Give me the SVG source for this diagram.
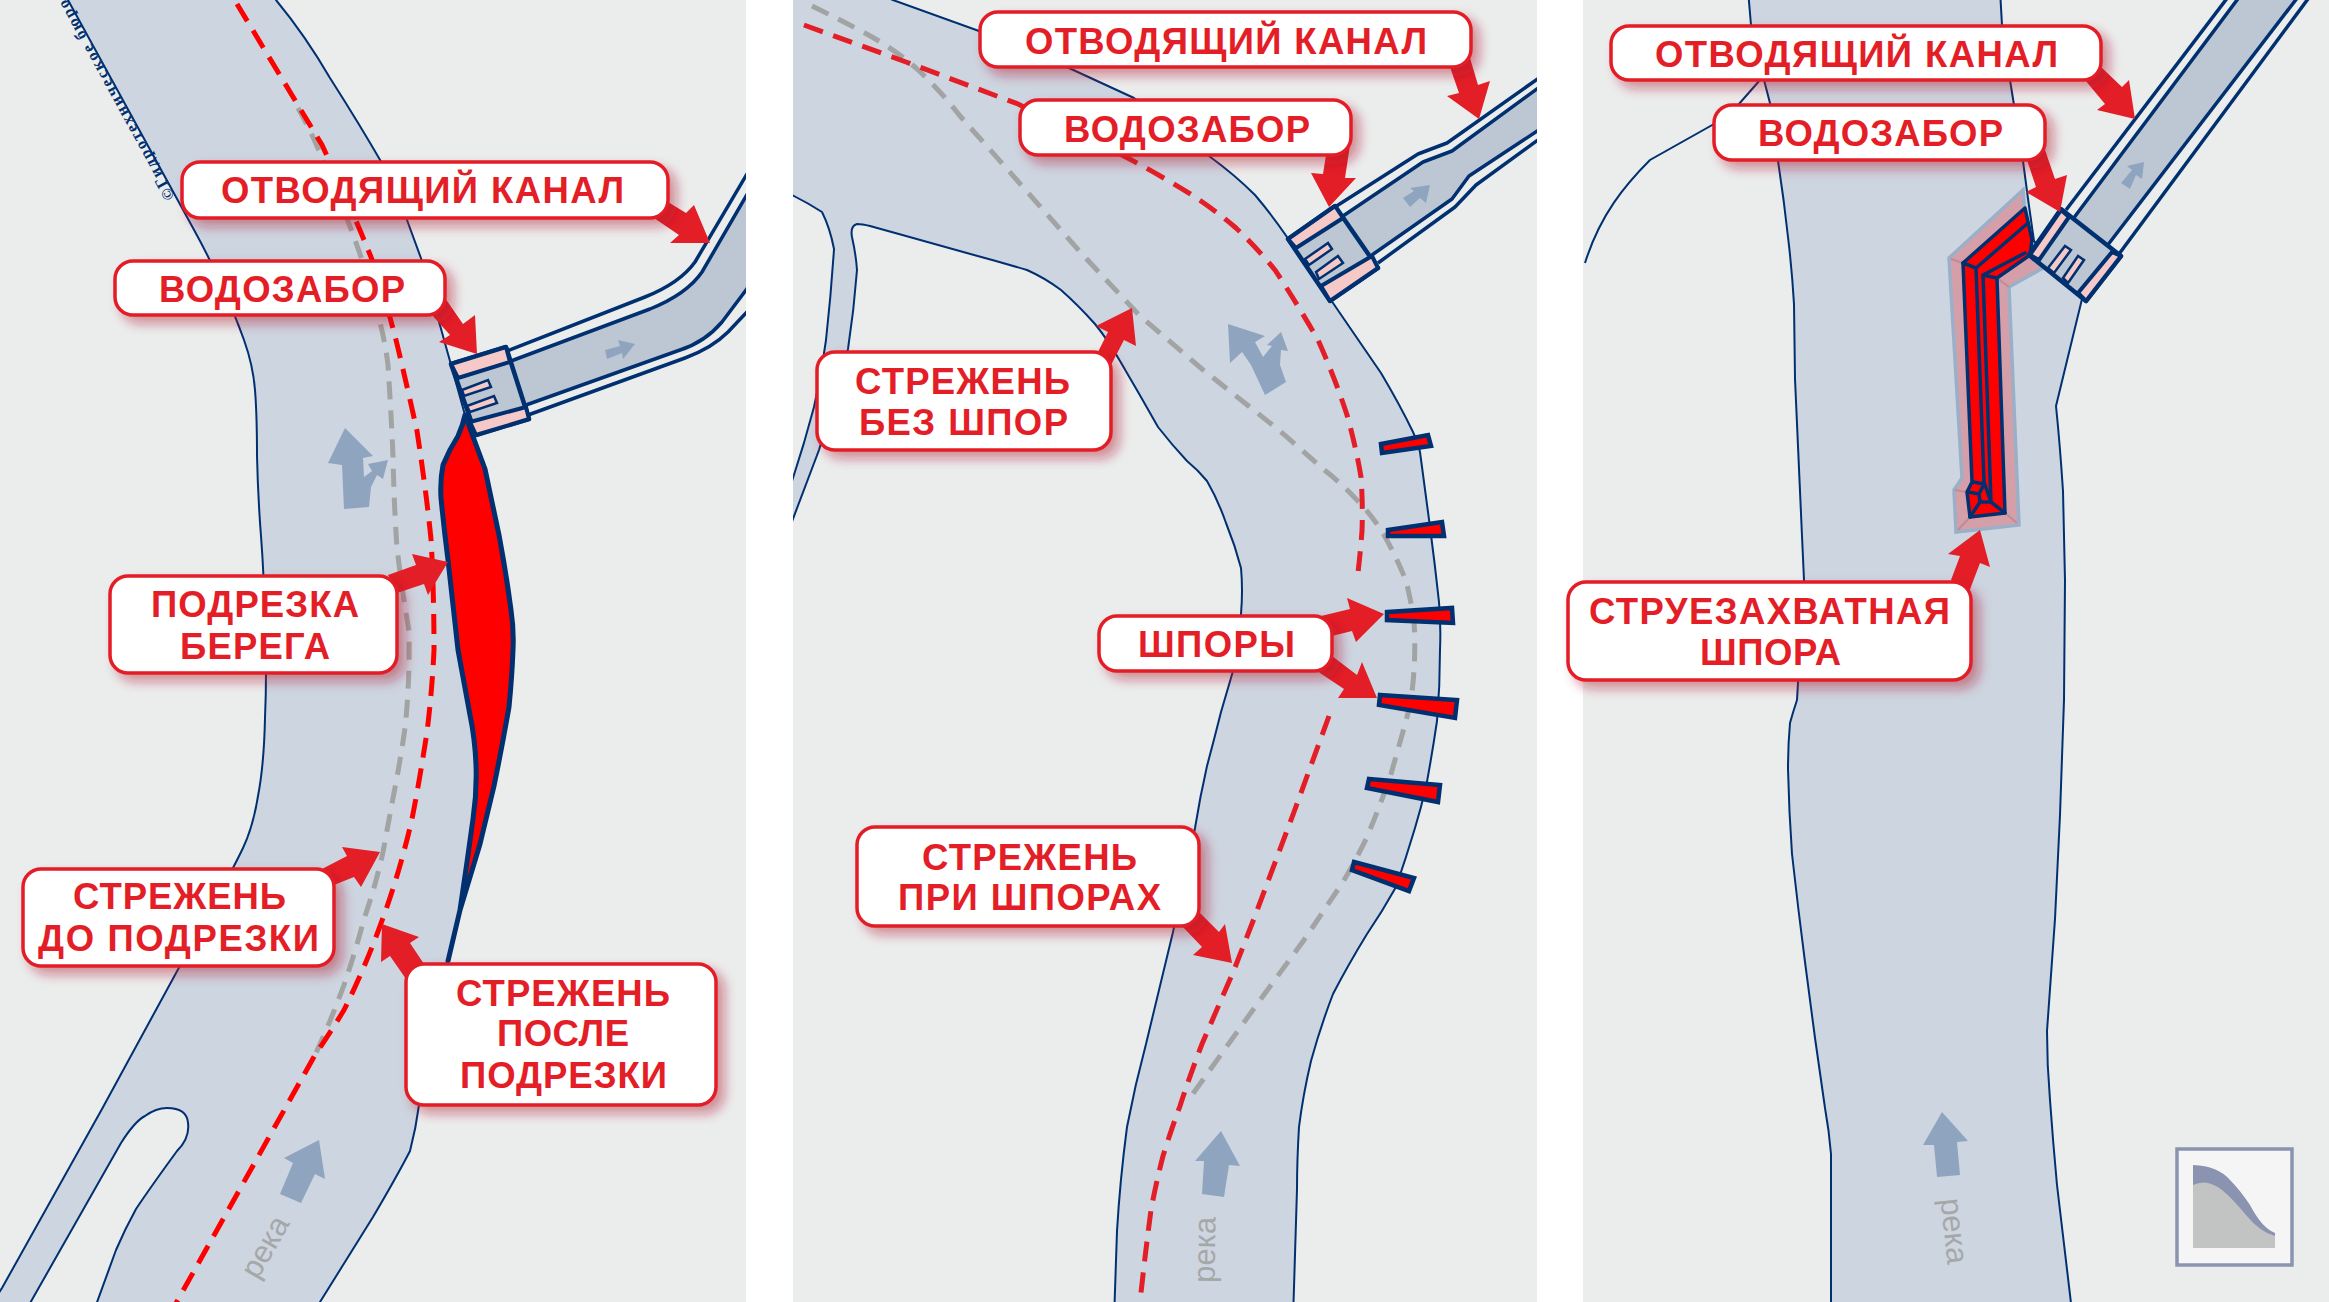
<svg xmlns="http://www.w3.org/2000/svg" width="2329" height="1302" viewBox="0 0 2329 1302">
<style>
.panel{fill:#ebeded}
.river{fill:#cdd5e0;stroke:#003070;stroke-width:2;stroke-linejoin:round}
.bg{fill:#ebeded;stroke:#003070;stroke-width:2}
.line{fill:none;stroke:#003070;stroke-width:2}
.canal{fill:#bcc7d3;stroke:none}
.cl{fill:none;stroke:#003070;stroke-width:3.5;stroke-linejoin:round}
.base{fill:#bcc7d3;stroke:#003070;stroke-width:4.5;stroke-linejoin:round}
.pink{fill:#f6c9c9;stroke:#003070;stroke-width:4;stroke-linejoin:round}
.tooth{fill:#f6c9c9;stroke:#003070;stroke-width:2.5}
.red1{fill:none;stroke:#ff0000;stroke-width:5;stroke-dasharray:20 11}
.red2{fill:none;stroke:#e31e26;stroke-width:5;stroke-dasharray:20 11}
.gray{fill:none;stroke:#a2a3a3;stroke-width:5;stroke-dasharray:18 11}
.flow{fill:#8fa5bf}
.cut{fill:#ff0000;stroke:#003070;stroke-width:5;stroke-linejoin:round}
.spur{fill:#ff0000;stroke:#003070;stroke-width:4.5;stroke-linejoin:miter}
.sp{fill:#ff0000;stroke:#003070;stroke-width:3.5;stroke-linejoin:round}
.sl{fill:none;stroke:#003070;stroke-width:3.5;stroke-linejoin:round;stroke-linecap:round}
.arrow{fill:#e31e26}
.box{fill:#fff;stroke:#e31e26;stroke-width:3.5;filter:url(#sh)}
.t{font-family:"Liberation Sans",Arial,sans-serif;font-weight:700;font-size:36.5px;fill:#e31e26}
.r{font-family:"Liberation Sans",Arial,sans-serif;font-size:31px;fill:#a5a8a8;text-anchor:middle}
</style>
<defs>
<filter id="sh" x="-15%" y="-30%" width="130%" height="170%"><feDropShadow dx="7" dy="7" stdDeviation="6" flood-color="#b01c2e" flood-opacity="0.45"/></filter>
<clipPath id="p1"><rect x="0" y="0" width="746" height="1302"/></clipPath>
<clipPath id="p2"><rect x="793" y="0" width="744" height="1302"/></clipPath>
<clipPath id="p3"><rect x="1583" y="0" width="746" height="1302"/></clipPath>
</defs>
<rect width="2329" height="1302" fill="#fff"/>
<rect class="panel" x="0" y="0" width="746" height="1302"/>
<rect class="panel" x="793" y="0" width="744" height="1302"/>
<rect class="panel" x="1583" y="0" width="746" height="1302"/>

<g id="panel-1-scene" clip-path="url(#p1)">
<path class="river" d="M68,0 L193,228 Q209,257 222,286 Q235,315 244,340 Q253,365 255,390 Q257,415 257,456 Q258,498 261,536 Q264,575 265,623 Q267,673 265,718 Q264,765 258,796 Q253,827 243,848 Q233,869 206,918 L102,1109 L2,1288 L-20,1322 L310,1322 L320,1302 L373,1217 Q396,1178 410,1151 Q416,1128 419,1105 L448,961 L460,910 Q470,877 480,844 Q487,815 494,786 Q502,747 509,707 Q512,677 513,650 Q514,630 511,610 Q506,572 499,535 Q492,502 485,469 Q475,442 465,415 L443,336 L422,261 L407,220 Q397,195 383,165 Q360,125 330,78 Q305,35 276,0 L270,-10 L62,-10 Z"/>
<path class="bg" d="M29,1305 L121,1143 Q135,1121 145,1116 Q156,1108 167,1108 Q187,1108 188,1123 Q190,1138 177,1151 Q150,1188 136,1209 Q125,1229 116,1250 L96,1305 L90,1322 L20,1322 Z"/>
<text transform="translate(175,197) rotate(-118.7)" font-family="Liberation Serif,serif" font-size="16" font-weight="700" fill="#003070" textLength="226">©Гидротехническое бюро</text>
<path class="gray" d="M298,108 Q312,133 322,158 Q338,195 349,224 Q356,242 361,257 Q372,292 378,315 Q385,340 388,365 Q391,410 393,456 Q394,505 397,548 Q402,590 409,631 Q410,682 405,728 Q400,763 393,798 L383,852 Q375,888 364,919 Q355,953 344,985 Q330,1023 315,1055"/>
<path class="red1" d="M237,4 L322,145 Q350,205 371,257 Q386,300 397,344 Q408,390 417,431 Q426,490 431,539 Q434,590 434,650 Q432,692 427,732 Q420,778 412,819 Q400,871 383,918 Q365,968 344,1010 Q330,1033 315,1055 L175,1305"/>
<path class="cut" d="M465,415 Q475,442 485,469 Q492,502 499,535 Q506,572 511,610 Q514,630 513,650 Q512,677 509,707 Q502,747 494,786 Q487,815 480,844 Q470,877 460,910 L448,961 L460,910 Q467,863 473,819 Q477,792 476,765 Q475,739 470,715 Q464,682 458,650 Q453,605 448,560 Q444,529 441,498 Q440,480 443,465 Q449,450 458,436 Q463,425 465,415 Z"/>
<path class="canal" d="M511,361 L650,309 Q687,294 702,270 L770,155 L770,258 L746,290 L722,322 Q705,342 680,350 L526,405 Z"/>
<path class="cl" d="M511,361 L650,309 Q687,294 702,272 L770,155"/>
<path class="cl" d="M507,351 L645,297 Q680,283 695,262 L770,135"/>
<path class="cl" d="M526,405 L680,350 Q705,342 722,322 L746,290 L770,258"/>
<path class="cl" d="M528,415 L685,358 Q712,348 728,332 L746,313 L770,287"/>
<polygon class="flow" points="605,350 620,346 618,340 635,344 623,359 622,353 607,359"/>
<polygon class="flow" points="345,428 373,456 363,458 364,477 372,471 368,464 388,460 383,479 377,475 371,487 369,507 344,509 342,465 328,463"/>
<polygon class="flow" points="319,1140 325,1179 315,1174 301,1203 280,1194 293,1163 284,1158"/>
<text class="r" transform="translate(274,1252) rotate(-60)">река</text>
</g>
<g id="intake-1">
<polygon class="base" points="451,364 506,347 529,419 476,435"/>
<polygon class="pink" points="451,364 506,347 510,362 458,378"/>
<polygon class="pink" points="470,422 526,407 529,419 476,435"/>
<polygon class="tooth" points="462,390 488,380 491,387 464,396"/>
<polygon class="tooth" points="467,406 494,396 497,403 470,412"/>
</g>

<g id="panel-2-scene" clip-path="url(#p2)">
<path class="river" d="M893,0 Q935,15 979,31 L1069,68 L1134,98 Q1175,125 1209,156 Q1235,175 1255,195 Q1272,215 1287,237 L1333,303 L1381,373 Q1400,405 1413,432 Q1418,442 1420,452 Q1425,490 1430,527 Q1435,565 1439,602 Q1441,625 1440,650 Q1440,686 1437,721 Q1432,755 1426,787 Q1421,808 1415,828 Q1406,858 1396,887 Q1382,912 1367,934 Q1348,965 1333,994 Q1320,1028 1311,1061 Q1303,1095 1299,1127 Q1297,1160 1297,1189 L1293,1320 L1114,1320 L1117,1231 Q1120,1180 1127,1127 Q1135,1085 1146,1044 L1173,932 Q1185,880 1195,828 Q1200,797 1207,766 Q1214,740 1221,712 L1233,671 Q1241,640 1241,614 Q1243,590 1241,568 Q1235,545 1226,523 Q1218,500 1207,481 Q1198,470 1187,461 Q1172,445 1158,427 Q1140,395 1120,361 Q1108,340 1095,324 Q1078,305 1061,290 Q1045,278 1027,270 Q1000,262 974,255 L906,236 L870,226 Q862,224 857,224 Q850,226 852,237 Q856,255 857,270 Q854,310 848,349 Q835,400 819,450 L785,540 L785,500 L792,481 Q804,445 814,407 Q821,375 826,340 Q831,295 834,249 Q830,228 822,212 Q808,203 792,195 L780,188 L780,-10 L870,-10 Z"/>
<path class="gray" d="M812,6 Q845,22 872,37 Q895,50 916,68 Q940,90 960,116 L1008,170 L1081,253 L1139,315 L1202,369 L1275,427 Q1300,448 1323,469 Q1340,482 1355,498 Q1372,515 1384,535 Q1397,558 1406,581 Q1411,600 1414,622 Q1416,650 1413,683 Q1411,702 1406,721 L1391,774 Q1380,806 1367,837 Q1356,860 1343,882 L1304,940 L1255,1007 L1187,1102"/>
<path class="red2" d="M804,25 L906,62 L1018,104 L1124,156 Q1160,175 1192,195 Q1215,210 1236,228 Q1257,248 1275,270 Q1298,305 1318,340 Q1335,378 1347,415 Q1356,447 1361,477 Q1363,505 1362,531 Q1360,557 1357,581"/>
<path class="red2" d="M1329,716 L1294,812 L1255,916 L1234,970 L1202,1044 Q1190,1075 1180,1106 Q1171,1130 1163,1156 Q1156,1183 1151,1210 Q1145,1255 1140,1302"/>
<path class="canal" d="M1343,216 L1423,162 L1452,151 L1560,72 L1560,116 L1469,176 L1452,199 L1372,255 Z"/>
<path class="cl" d="M1343,216 L1423,162 L1452,151 L1560,72"/>
<path class="cl" d="M1335,207 L1418,154 L1447,143 L1560,63"/>
<path class="cl" d="M1372,255 L1452,199 L1469,176 L1560,116"/>
<path class="cl" d="M1378,263 L1455,207 L1476,185 L1560,124"/>
<polygon class="flow" points="1430,185 1426,203 1420,198 1410,207 1403,198 1414,191 1410,188"/>
<polygon class="flow" points="1228,324 1265,336 1255,342 1263,357 1272,346 1267,345 1281,332 1288,351 1281,350 1280,365 1286,382 1265,395 1251,365 1242,352 1230,363"/>
<polygon class="flow" points="1221,1131 1240,1166 1229,1165 1224,1197 1202,1194 1204,1161 1195,1161"/>
<text class="r" transform="translate(1215,1250) rotate(-89)">река</text>
</g>
<g id="intake-2">
<polygon class="base" points="1288,239 1335,206 1378,268 1330,301"/>
<polygon class="pink" points="1288,239 1335,206 1343,218 1296,248"/>
<polygon class="pink" points="1321,286 1372,256 1378,268 1330,301"/>
<polygon class="tooth" points="1305,259 1328,243 1332,249 1309,265"/>
<polygon class="tooth" points="1316,272 1338,256 1343,263 1319,279"/>
</g>
<g id="spurs">
<polygon class="spur" points="1381,444 1428,435 1431,446 1382,453"/>
<polygon class="spur" points="1388,530 1442,522 1444,536 1388,536"/>
<polygon class="spur" points="1387,612 1452,608 1453,623 1387,620"/>
<polygon class="spur" points="1380,695 1457,700 1455,718 1379,705"/>
<polygon class="spur" points="1369,779 1440,785 1438,802 1367,788"/>
<polygon class="spur" points="1354,862 1414,878 1409,891 1352,870"/>
</g>

<g id="panel-3-scene" clip-path="url(#p3)">
<path class="river" d="M1748,-10 L1751,25 Q1757,55 1764,80 L1771,107 Q1775,135 1778,161 Q1784,200 1788,237 Q1792,270 1794,304 L1795,379 L1802,536 L1804,580 L1797,700 Q1793,712 1790,723 Q1788,745 1788,769 Q1789,812 1792,854 Q1798,908 1805,962 Q1810,1000 1815,1038 L1825,1108 Q1829,1130 1831,1154 L1831,1320 L2073,1320 L2057,1185 Q2053,1142 2050,1100 Q2047,1065 2047,1031 L2055,919 L2060,815 L2064,700 L2065,580 Q2064,530 2063,491 Q2060,445 2056,406 L2082,299 L2034,241 Q2028,200 2023,161 Q2018,130 2014,105 L2010,80 L2002,25 L2000,-10 Z"/>
<path class="line" d="M1585,263 C1600,215 1625,185 1650,160 L1714,124 L1739,104 L1760,80"/>
<path class="canal" d="M2073,219 L2252,-20 L2311,-20 L2107,246 Z"/>
<path class="cl" d="M2073,219 L2252,-20"/>
<path class="cl" d="M2066,210 L2241,-20"/>
<path class="cl" d="M2107,246 L2311,-20"/>
<path class="cl" d="M2119,254 L2322,-20"/>
<polygon class="flow" points="2144,162 2142,179 2136,175 2130,189 2121,183 2132,170 2127,166"/>
<polygon class="flow" points="1942,1112 1968,1141 1957,1142 1960,1175 1937,1177 1934,1145 1923,1145"/>
<text class="r" transform="translate(1944,1232) rotate(84)">река</text>
</g>
<g id="training-spur">
<polygon points="2023,190 1949,258 1962,478 1954,490 1956,532 2019,525 2009,287 2043,268 2028,255" fill="#d59fa9" stroke="#9ab0c8" stroke-width="3.5"/>
<path d="M1951,259 L1963,263 M2017,523 L2005,513 M1958,530 L1970,517 M2009,287 L1997,278 M1955,490 L1967,492" fill="none" stroke="#c18a98" stroke-width="2"/>
<polygon class="sp" points="2025,208 1963,263 1972,482 1967,492 1970,517 2005,513 1997,278 2030,255 2032,240"/>
<path class="sl" d="M2028,223 L1976,268 L1984,482 L1991,502 L1983,275 L2025,253 M1963,263 L1976,268 M1983,275 L1997,278 M1980,502 L1991,502 L2005,513 M1970,517 L1980,502 L1979,494 M1973,482 L1984,484 L1979,494 L1968,492"/>
</g>
<g id="intake-3">
<polygon class="base" points="2029,255 2061,209 2121,256 2086,301"/>
<polygon class="pink" points="2061,210 2069,217 2039,260 2030,255"/>
<polygon class="pink" points="2112,252 2121,256 2086,301 2078,293"/>
<polygon class="tooth" points="2048,268 2065,246 2071,250 2054,273"/>
<polygon class="tooth" points="2063,278 2078,256 2084,260 2068,283"/>
</g>
<g id="legend">
<rect x="2177" y="1149" width="115" height="116" fill="#f5f5f5" stroke="#8a94b0" stroke-width="3.5"/>
<path d="M2193,1165 Q2218,1166 2230,1180 Q2240,1190 2250,1205 Q2262,1228 2275,1233 L2275,1248 L2193,1248 Z" fill="#8a94b0"/>
<path d="M2193,1185 Q2207,1178 2222,1190 Q2232,1198 2246,1215 Q2260,1232 2275,1236 L2275,1248 L2193,1248 Z" fill="#c2c3c3"/>
</g>

<g id="connectors">
<polygon class="arrow" points="668,202 686,213 694,205 710,243 670,243 679,235 654,218"/>
<polygon class="arrow" points="445,298 463,324 475,315 477,354 439,342 450,335 432,315"/>
<polygon class="arrow" points="388,575 416,565 412,554 448,562 428,595 424,584 397,593"/>
<polygon class="arrow" points="322,869 347,856 342,847 380,852 361,887 354,877 334,885"/>
<polygon class="arrow" points="424,964 410,943 419,937 382,924 381,962 390,956 406,979"/>
<polygon class="arrow" points="1470,58 1478,85 1490,81 1479,119 1447,96 1459,93 1450,67"/>
<polygon class="arrow" points="1350,145 1345,178 1356,178 1329,207 1311,173 1323,174 1326,155"/>
<polygon class="arrow" points="1098,352 1108,332 1096,326 1132,308 1136,346 1124,340 1111,365"/>
<polygon class="arrow" points="1321,616 1350,609 1347,598 1384,614 1356,642 1352,631 1332,636"/>
<polygon class="arrow" points="1332,656 1357,675 1362,662 1377,698 1338,698 1344,689 1317,671"/>
<polygon class="arrow" points="1199,912 1219,932 1225,924 1232,963 1193,955 1202,947 1182,926"/>
<polygon class="arrow" points="2101,67 2122,87 2129,80 2135,119 2097,110 2105,104 2085,80"/>
<polygon class="arrow" points="2045,150 2055,179 2067,175 2060,212 2026,192 2036,187 2027,160"/>
<polygon class="arrow" points="1951,580 1960,556 1948,554 1980,530 1990,567 1980,563 1969,592"/>
</g>

<g id="label-kanal-1"><rect class="box" x="182" y="162" width="486" height="56" rx="18"/><text class="t" x="221" y="203" textLength="403">ОТВОДЯЩИЙ КАНАЛ</text></g>
<g id="label-vodozabor-1"><rect class="box" x="115" y="261" width="330" height="54" rx="18"/><text class="t" x="159" y="302" textLength="246">ВОДОЗАБОР</text></g>
<g id="label-podrezka"><rect class="box" x="110" y="576" width="287" height="97" rx="18"/><text class="t" x="151" y="617" textLength="208">ПОДРЕЗКА</text><text class="t" x="180" y="659" textLength="150">БЕРЕГА</text></g>
<g id="label-do"><rect class="box" x="23" y="869" width="311" height="97" rx="18"/><text class="t" x="73" y="909" textLength="213">СТРЕЖЕНЬ</text><text class="t" x="38" y="951" textLength="281">ДО ПОДРЕЗКИ</text></g>
<g id="label-posle"><rect class="box" x="406" y="964" width="310" height="141" rx="18"/><text class="t" x="456" y="1006" textLength="214">СТРЕЖЕНЬ</text><text class="t" x="497" y="1046" textLength="132">ПОСЛЕ</text><text class="t" x="460" y="1088" textLength="207">ПОДРЕЗКИ</text></g>
<g id="label-kanal-2"><rect class="box" x="980" y="12" width="491" height="55" rx="18"/><text class="t" x="1025" y="54" textLength="402">ОТВОДЯЩИЙ КАНАЛ</text></g>
<g id="label-vodozabor-2"><rect class="box" x="1020" y="100" width="331" height="55" rx="18"/><text class="t" x="1064" y="142" textLength="246">ВОДОЗАБОР</text></g>
<g id="label-bez"><rect class="box" x="817" y="352" width="294" height="98" rx="18"/><text class="t" x="855" y="394" textLength="215">СТРЕЖЕНЬ</text><text class="t" x="859" y="435" textLength="209">БЕЗ ШПОР</text></g>
<g id="label-shpory"><rect class="box" x="1099" y="616" width="233" height="55" rx="18"/><text class="t" x="1138" y="657" textLength="157">ШПОРЫ</text></g>
<g id="label-pri"><rect class="box" x="857" y="827" width="342" height="99" rx="18"/><text class="t" x="922" y="870" textLength="215">СТРЕЖЕНЬ</text><text class="t" x="898" y="910" textLength="263">ПРИ ШПОРАХ</text></g>
<g id="label-kanal-3"><rect class="box" x="1611" y="26" width="490" height="54" rx="18"/><text class="t" x="1655" y="67" textLength="403">ОТВОДЯЩИЙ КАНАЛ</text></g>
<g id="label-vodozabor-3"><rect class="box" x="1714" y="105" width="331" height="55" rx="18"/><text class="t" x="1758" y="146" textLength="245">ВОДОЗАБОР</text></g>
<g id="label-strue"><rect class="box" x="1568" y="582" width="403" height="98" rx="18"/><text class="t" x="1589" y="624" textLength="361">СТРУЕЗАХВАТНАЯ</text><text class="t" x="1700" y="665" textLength="141">ШПОРА</text></g>
</svg>
